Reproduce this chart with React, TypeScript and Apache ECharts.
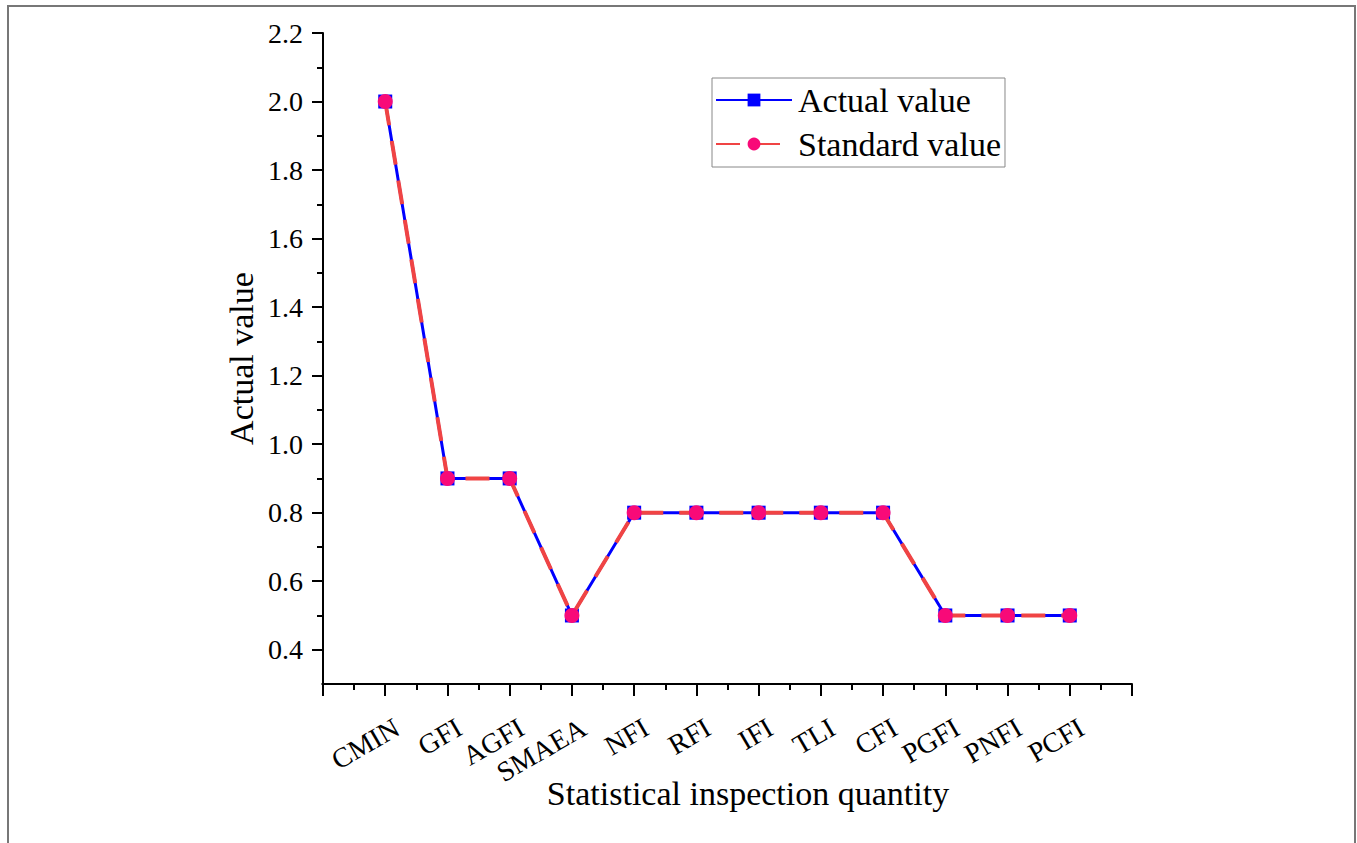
import React, { useEffect, useRef } from "react";
import * as echarts from "echarts";

const categories = ["CMIN", "GFI", "AGFI", "SMAEA", "NFI", "RFI", "IFI", "TLI", "CFI", "PGFI", "PNFI", "PCFI"];
const actualValues = [2.0, 0.9, 0.9, 0.5, 0.8, 0.8, 0.8, 0.8, 0.8, 0.5, 0.5, 0.5];
const standardValues = [2.0, 0.9, 0.9, 0.5, 0.8, 0.8, 0.8, 0.8, 0.8, 0.5, 0.5, 0.5];
const yTickLabels = ["0.4", "0.6", "0.8", "1.0", "1.2", "1.4", "1.6", "1.8", "2.0", "2.2"];

const FONT = "Liberation Serif";

export default function App() {
  const ref = useRef<HTMLDivElement>(null);
  useEffect(() => {
    if (!ref.current) return;
    const chart = echarts.init(ref.current, null, { renderer: "svg" });
    const toPairs = (arr: number[]) => arr.map((v, i) => [i + 1, v]);
    chart.setOption({
      animation: false,
      backgroundColor: "#ffffff",
      textStyle: { fontFamily: FONT },
      graphic: [
        {
          type: "rect",
          shape: { x: 8, y: 6, width: 1347, height: 860 },
          style: { fill: "none", stroke: "#777", lineWidth: 2 },
          silent: true,
        },
        {
          type: "rect",
          shape: { x: 308, y: 681, width: 13.5, height: 6 },
          style: { fill: "#ffffff" },
          silent: true,
          z: 100,
        },
      ],
      legend: {
        left: 712,
        top: 78,
        orient: "vertical",
        borderColor: "#888",
        borderWidth: 1,
        borderRadius: 0,
        padding: [5, 4, 6, 3],
        itemWidth: 76,
        itemHeight: 16,
        itemGap: 10,
        textStyle: { fontFamily: FONT, fontSize: 34, color: "#000", padding: [0, 0, 0, 1] },
        data: ["Actual value", "Standard value"],
      },
      grid: { left: 323, right: 225, top: 33, bottom: 159, containLabel: false },
      xAxis: {
        type: "value",
        min: 0,
        max: 13,
        interval: 1,
        name: "Statistical inspection quantity",
        nameLocation: "middle",
        nameGap: 92,
        nameMoveOverlap: false,
        nameTextStyle: { fontFamily: FONT, fontSize: 34, color: "#000", padding: [0, 0, 0, 41] },
        axisLine: { show: true, lineStyle: { color: "#000", width: 2 } },
        axisTick: { show: true, inside: false, length: 12, lineStyle: { color: "#000", width: 2 } },
        minorTick: { show: true, splitNumber: 2, length: 6, lineStyle: { color: "#000", width: 2 } },
        splitLine: { show: false },
        minorSplitLine: { show: false },
        axisLabel: {
          rotate: 30,
          margin: 9,
          fontFamily: FONT,
          fontSize: 28,
          color: "#000",
          verticalAlign: "top",
          padding: [20, 6, 0, 0],
          formatter: (v: number) => categories[Math.round(v) - 1] ?? "",
        },
      },
      yAxis: {
        type: "value",
        min: 0.3,
        max: 2.2,
        minInterval: 0.2,
        maxInterval: 0.2,
        splitNumber: 9,
        name: "Actual value",
        nameLocation: "middle",
        nameGap: 65,
        nameMoveOverlap: false,
        nameTextStyle: { fontFamily: FONT, fontSize: 34, color: "#000" },
        axisLine: { show: true, lineStyle: { color: "#000", width: 2 } },
        axisTick: { show: true, inside: false, length: 11, lineStyle: { color: "#000", width: 2 } },
        minorTick: { show: true, splitNumber: 2, length: 6, lineStyle: { color: "#000", width: 2 } },
        splitLine: { show: false },
        minorSplitLine: { show: false },
        axisLabel: {
          margin: 20,
          fontFamily: FONT,
          fontSize: 28,
          color: "#000",
          formatter: (v: number) => {
            const s = v.toFixed(1);
            return yTickLabels.includes(s) ? s : "";
          },
        },
      },
      series: [
        {
          name: "Actual value",
          type: "line",
          data: toPairs(actualValues),
          symbol: "rect",
          symbolSize: 14,
          lineStyle: { color: "#0000ff", width: 3, type: "solid" },
          itemStyle: { color: "#0000ff" },
          z: 2,
        },
        {
          name: "Standard value",
          type: "line",
          data: toPairs(standardValues),
          symbol: "circle",
          symbolSize: 15,
          lineStyle: { color: "#f04444", width: 4, type: [24, 16] },
          itemStyle: { color: "#f80a78" },
          z: 3,
        },
      ],
    });
    return () => chart.dispose();
  }, []);
  return (
    <div
      ref={ref}
      style={{ position: "absolute", left: 0, top: 0, width: 1357, height: 843 }}
    />
  );
}
